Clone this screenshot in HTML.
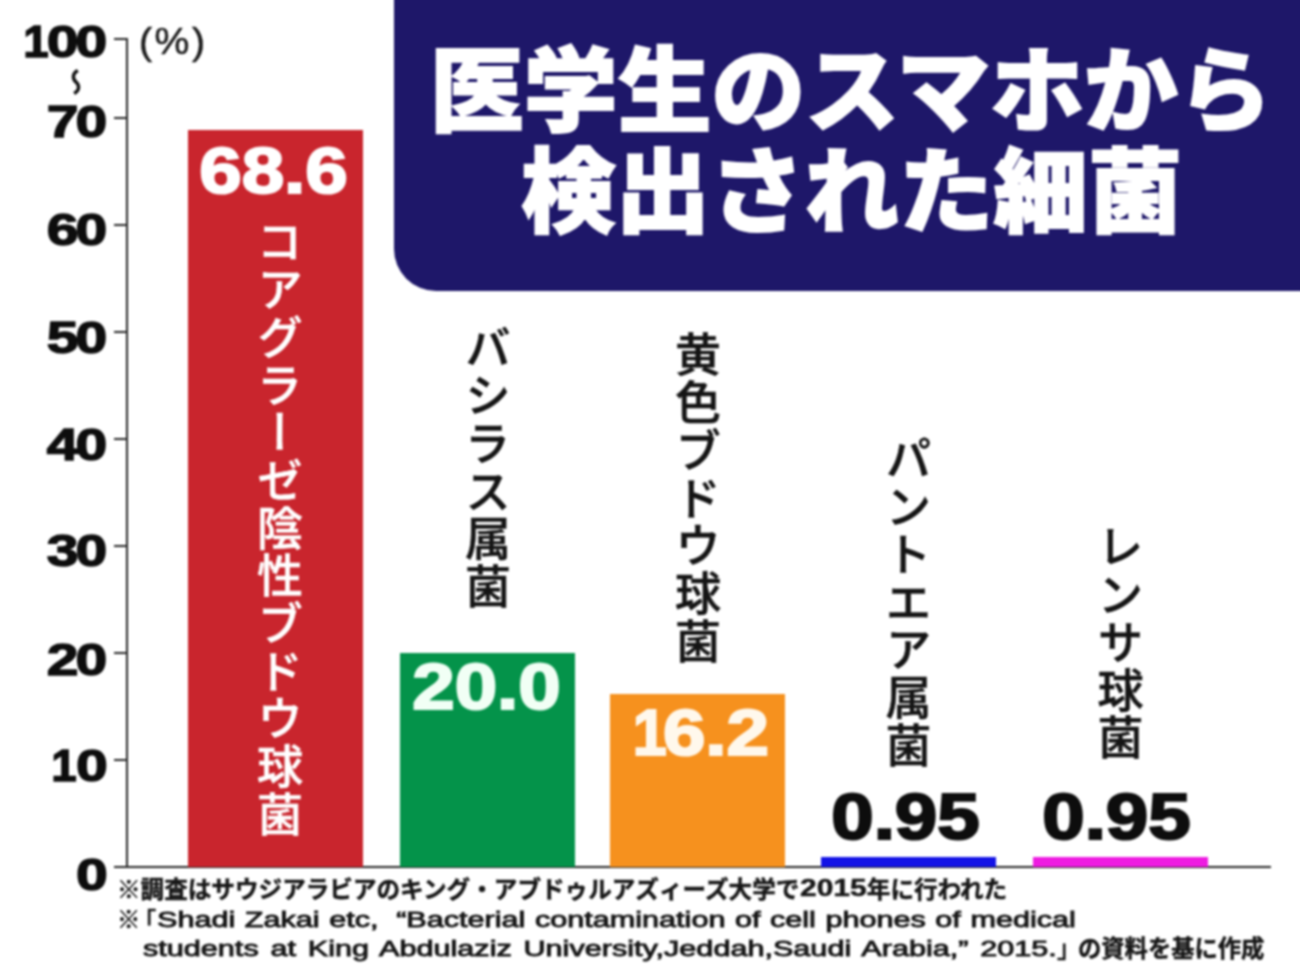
<!DOCTYPE html>
<html lang="ja">
<head>
<meta charset="utf-8">
<title>医学生のスマホから検出された細菌</title>
<style>
html,body{margin:0;padding:0;background:#fff;}
body{width:1300px;height:976px;position:relative;overflow:hidden;
  font-family:"Liberation Sans","Noto Sans CJK JP",sans-serif;color:#111;}
#stage{position:absolute;left:0;top:0;width:1300px;height:976px;filter:blur(0.8px);}
.abs{position:absolute;white-space:nowrap;line-height:1;transform-origin:0 0;}
.bar{position:absolute;}
.axis{position:absolute;background:#282828;}
/* y-axis numbers */
.ynum{position:absolute;white-space:nowrap;line-height:1;font-weight:bold;font-size:45px;
  color:#0d0d0d;transform-origin:100% 0;transform:scaleX(1.27);right:1195.5px;text-align:right;
  -webkit-text-stroke:1.4px #0d0d0d;letter-spacing:-2.5px;}
.one{display:inline-block;transform:scaleX(0.8);transform-origin:100% 50%;}
/* big values */
.val{position:absolute;white-space:nowrap;line-height:1;font-weight:bold;font-size:65px;
  transform-origin:50% 0;transform:scaleX(1.175);text-align:center;-webkit-text-stroke:2.2px currentColor;}
/* vertical labels */
.vl{position:absolute;writing-mode:vertical-rl;white-space:nowrap;
  font-family:"Noto Sans CJK JP",sans-serif;font-weight:500;font-size:46px;letter-spacing:1.7px;line-height:1;-webkit-text-stroke:0.5px currentColor;
  width:46px;color:#141414;}
/* title */
.title{position:absolute;left:394px;top:-20px;width:930px;height:310.5px;background:#1e1769;
  border-bottom-left-radius:42px;}
.tl{position:absolute;white-space:nowrap;line-height:1;color:#fff;
  font-family:"Noto Sans CJK JP",sans-serif;font-weight:900;font-size:92px;
  transform-origin:0 0;-webkit-text-stroke:2px #fff;}
/* footnotes */
.fn{position:absolute;white-space:nowrap;line-height:1;transform-origin:0 0;color:#161616;}
.fnj{font-family:"Noto Sans CJK JP",sans-serif;font-weight:700;font-size:23px;-webkit-text-stroke:0.45px #161616;}
.fne{font-family:"Liberation Sans","Noto Sans CJK JP",sans-serif;font-weight:400;font-size:22.5px;word-spacing:0.75px;-webkit-text-stroke:0.9px #161616;}
.wd{display:inline-block;height:1em;vertical-align:top;position:relative;}
.wdi{position:absolute;left:1px;top:0;transform-origin:0 0;font-family:"Liberation Sans",sans-serif;font-weight:bold;line-height:1;}
</style>
</head>
<body>
<div id="stage">

<!-- title panel -->
<div class="title"></div>
<div class="tl" id="t1" style="left:429.5px;top:38px;transform:scaleX(1.02);">医学生のスマホから</div>
<div class="tl" id="t2" style="left:521px;top:139px;transform:scaleX(1.027);">検出された細菌</div>

<!-- axes -->
<div class="axis" style="left:126px;top:38px;width:2px;height:830px;"></div>
<div class="axis" style="left:114px;top:866px;width:1157px;height:2px;"></div>
<div class="axis" style="left:114px;top:38px;width:13px;height:2px;"></div>
<div class="axis" style="left:114px;top:117px;width:13px;height:2px;"></div>
<div class="axis" style="left:114px;top:224px;width:13px;height:2px;"></div>
<div class="axis" style="left:114px;top:331px;width:13px;height:2px;"></div>
<div class="axis" style="left:114px;top:438px;width:13px;height:2px;"></div>
<div class="axis" style="left:114px;top:545px;width:13px;height:2px;"></div>
<div class="axis" style="left:114px;top:652px;width:13px;height:2px;"></div>
<div class="axis" style="left:114px;top:759px;width:13px;height:2px;"></div>

<!-- y labels -->
<div class="ynum" id="y100" style="top:19px;"><span class="one" style="margin-right:0.5px;">1</span>00</div>
<div class="ynum" id="y70" style="top:99px;">70</div>
<div class="ynum" id="y60" style="top:207px;">60</div>
<div class="ynum" id="y50" style="top:314.5px;">50</div>
<div class="ynum" id="y40" style="top:422px;">40</div>
<div class="ynum" id="y30" style="top:527.5px;">30</div>
<div class="ynum" id="y20" style="top:636.5px;">20</div>
<div class="ynum" id="y10" style="top:742.5px;"><span class="one" style="margin-right:1.5px;">1</span>0</div>
<div class="ynum" id="y0" style="top:851.5px;">0</div>
<div class="abs" id="wave" style="left:62px;top:68px;font-size:28px;font-weight:bold;writing-mode:vertical-rl;font-family:'Noto Sans CJK JP',sans-serif;">〜</div>
<div class="abs" id="pct" style="left:138.5px;top:23px;font-size:37px;letter-spacing:2.4px;transform:scaleX(1.06);color:#1a1a1a;-webkit-text-stroke:0.5px #1a1a1a;">(%)</div>

<!-- bars -->
<div class="bar" style="left:188px;top:130px;width:175px;height:737px;background:#c9252d;"></div>
<div class="bar" style="left:400px;top:653px;width:175px;height:214px;background:#04934a;"></div>
<div class="bar" style="left:610px;top:693.5px;width:174.5px;height:173.5px;background:#f6911e;"></div>
<div class="bar" style="left:821px;top:857px;width:175px;height:10px;background:#1313e6;"></div>
<div class="bar" style="left:1033px;top:857px;width:175px;height:10px;background:#ee1be1;"></div>

<!-- values -->
<div class="val" id="v1" style="left:186px;width:175px;top:138px;color:#fff;">68.6</div>
<div class="val" id="v2" style="left:399px;width:175px;top:654px;color:#f1fff5;">20.0</div>
<div class="val" id="v3" style="left:609px;width:175px;top:700px;color:#fff8ec;"><span class="one" style="margin-right:-3px;">1</span>6.2</div>
<div class="val" id="v4" style="left:818px;width:175px;top:784px;color:#0d0d0d;">0.95</div>
<div class="val" id="v5" style="left:1029px;width:175px;top:784px;color:#0d0d0d;">0.95</div>

<!-- vertical labels -->
<div class="vl" id="l1" style="left:257px;top:218px;color:#fff;">コアグラーゼ陰性ブドウ球菌</div>
<div class="vl" id="l2" style="left:465px;top:324px;">バシラス属菌</div>
<div class="vl" id="l3" style="left:675px;top:330.5px;">黄色ブドウ球菌</div>
<div class="vl" id="l4" style="left:885.5px;top:434.5px;">パントエア属菌</div>
<div class="vl" id="l5" style="left:1097.5px;top:523px;">レンサ球菌</div>

<!-- footnotes -->
<div class="fn fnj" id="f1" style="left:117px;top:877px;font-size:23.6px;">※調査はサウジアラビアのキング・アブドゥルアズィーズ大学で<span class="wd" style="width:67.5px;"><span id="f1n" class="wdi" style="transform:scaleX(1.27);">2015</span></span>年に行われた</div>
<div class="fn fnj" id="f2a" style="left:117px;top:907px;font-weight:500;font-size:23.3px;">※</div>
<div class="fn fnj" id="f2b" style="left:133px;top:909px;font-weight:500;font-size:23.3px;">「</div>
<div class="fn fne" id="f2" style="left:157px;top:908.5px;transform:scaleX(1.36);">Shadi Zakai etc, <span style="margin-left:6px;">“</span>Bacterial contamination of cell phones of medical</div>
<div class="fn fne" id="f3" style="left:143px;top:938px;word-spacing:2.4px;transform:scaleX(1.36);">students at King Abdulaziz University,Jeddah,Saudi Arabia,<span style="margin-right:0px;">”</span> 2015.</div>
<div class="fn fnj" id="f3b" style="left:1057px;top:936px;font-weight:500;font-size:23.3px;">」</div>
<div class="fn fnj" id="f3c" style="left:1078px;top:935.5px;font-size:23.3px;">の資料を基に作成</div>

</div>
</body>
</html>
